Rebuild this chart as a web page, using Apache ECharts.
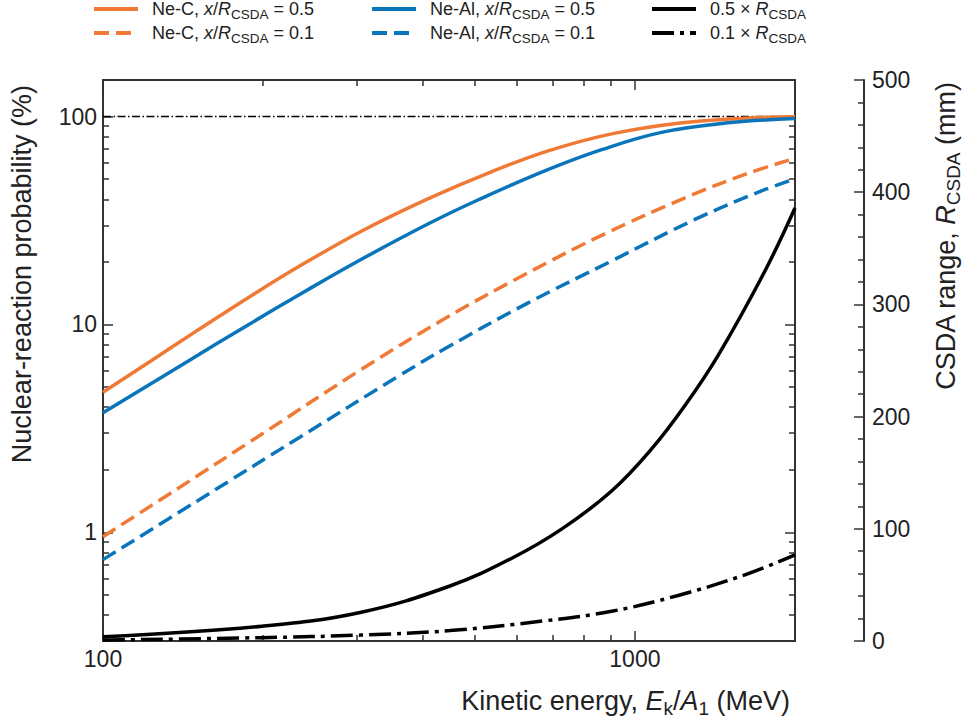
<!DOCTYPE html>
<html>
<head>
<meta charset="utf-8">
<script src="https://cdn.jsdelivr.net/npm/echarts@6/dist/echarts.min.js"></script>
<style>html,body{margin:0;padding:0;background:#fff}#c{width:966px;height:721px}</style>
</head>
<body>
<div id="c"></div>
<script>
// ---------- data ----------
const seriesNames = [
  'Ne-C, x/RCSDA = 0.5',
  'Ne-C, x/RCSDA = 0.1',
  'Ne-Al, x/RCSDA = 0.5',
  'Ne-Al, x/RCSDA = 0.1',
  '0.5 × RCSDA',
  '0.1 × RCSDA'
];

// Nuclear-reaction probability (%), left log axis
const energyNeC05 = [100, 122, 149, 193, 236, 306, 409, 530, 687, 904, 1206, 1610, 2000];
const probNeC05   = [4.72, 6.58, 9.21, 14.1, 19.3, 28.1, 40.3, 53.5, 68.4, 82.6, 93.0, 98.3, 99.7];

const energyNeC01 = [100, 137, 199, 306, 440, 621, 878, 1242, 1610, 2000];
const probNeC01   = [0.953, 1.60, 2.97, 6.08, 10.7, 17.4, 27.3, 40.6, 52.7, 63.0];

const energyNeAl05 = [100, 146, 185, 240, 302, 409, 508, 677, 866, 1122, 1498, 2000];
const probNeAl05   = [3.76, 6.77, 9.76, 14.45, 20.2, 30.5, 39.8, 54.8, 69.3, 84.0, 93.3, 97.8];

const energyNeAl01 = [100, 152, 234, 361, 440, 630, 904, 1297, 1730, 2000];
const probNeAl01   = [0.739, 1.44, 2.86, 5.68, 7.66, 12.7, 20.2, 32.0, 43.9, 50.2];

// CSDA range (mm), right linear axis
const energyRange05 = [100, 199, 306, 449, 587, 728, 904, 1075, 1242, 1434, 1755, 2000];
const range05       = [3.8, 13.2, 25.7, 49.0, 73.8, 99.7, 133.7, 171.2, 209.9, 254.6, 329.6, 385.9];

const energyRange01 = [100, 199, 306, 449, 677, 904, 1206, 1610, 2000];
const range01       = [0.8, 3.0, 5.3, 9.3, 18.0, 26.5, 40.6, 59.0, 76.8];

// 100 % reference line
const refLineX = [100, 2000];
const refLineY = [100, 100];

// axes
const xMin = 100, xMax = 2000;
const xMajorTicks = [100, 1000];
const xMinorTicks = [200, 300, 400, 500, 600, 700, 800, 900];
const yMin = 0.3, yMax = 150;
const yMajorTicks = [1, 10, 100];
const yMinorTicks = [0.4, 0.5, 0.6, 0.7, 0.8, 0.9, 2, 3, 4, 5, 6, 7, 8, 9, 20, 30, 40, 50, 60, 70, 80, 90];
const rangeMin = 0, rangeMax = 500, rangeInterval = 100;

// ---------- styles ----------
const FONT = '"Liberation Sans", Arial, Helvetica, sans-serif';
const TXT = '#222222';
const AX = '#333333';
const ORANGE = '#F07A35';
const BLUE = '#0B75BC';
const BLACK = '#000000';
const DASH = [15, 7];
const DASHDOT = [22, 6, 4, 6];

function pairs(xs, ys) { return xs.map((x, i) => [x, ys[i]]); }

const legendRich = {
  n: {fontFamily: FONT, fontSize: 18, color: TXT, lineHeight: 24},
  i: {fontFamily: FONT, fontSize: 18, color: TXT, lineHeight: 24, fontStyle: 'italic'},
  s: {fontFamily: FONT, fontSize: 13.5, color: TXT, verticalAlign: 'bottom'},
  g: {width: 9}
};
const legendText = {};
legendText[seriesNames[0]] = '{g| }{n|Ne-C, }{i|x}{n|/}{i|R}{s|CSDA}{n| = 0.5}';
legendText[seriesNames[1]] = '{g| }{n|Ne-C, }{i|x}{n|/}{i|R}{s|CSDA}{n| = 0.1}';
legendText[seriesNames[2]] = '{g| }{n|Ne-Al, }{i|x}{n|/}{i|R}{s|CSDA}{n| = 0.5}';
legendText[seriesNames[3]] = '{g| }{n|Ne-Al, }{i|x}{n|/}{i|R}{s|CSDA}{n| = 0.1}';
legendText[seriesNames[4]] = '{g| }{n|0.5 × }{i|R}{s|CSDA}';
legendText[seriesNames[5]] = '{g| }{n|0.1 × }{i|R}{s|CSDA}';

const nameRich = {
  n: {fontFamily: FONT, fontSize: 27, color: TXT, lineHeight: 34},
  i: {fontFamily: FONT, fontSize: 27, color: TXT, lineHeight: 34, fontStyle: 'italic'},
  s: {fontFamily: FONT, fontSize: 19, color: TXT, verticalAlign: 'bottom'}
};

const labelStyle = {fontFamily: FONT, fontSize: 23, color: TXT};
const tickLine = {color: AX, width: 1.5};
const frameLine = {color: AX, width: 2};

function logAxis(min, max, extra) {
  return Object.assign({
    type: 'log', logBase: 10, min: min, max: max,
    splitLine: {show: false}, minorTick: {show: false}, minorSplitLine: {show: false},
    axisLabel: {show: false}, axisLine: {show: false},
    axisPointer: {show: false}
  }, extra);
}

const legendBase = {
  orient: 'vertical', top: 0, padding: 0,
  itemWidth: 44, itemHeight: 14, itemGap: 3,
  selectedMode: false,
  itemStyle: {opacity: 0},
  lineStyle: {width: 4},
  textStyle: {fontFamily: FONT, fontSize: 18, color: TXT, rich: legendRich},
  formatter: name => legendText[name]
};

function lineSeries(name, xs, ys, color, type, yAxisIndex) {
  return {
    name: name, type: 'line', xAxisIndex: 0, yAxisIndex: yAxisIndex,
    data: pairs(xs, ys), smooth: 0.4,
    symbol: 'none', showSymbol: false,
    lineStyle: {color: color, width: 3.5, type: type, cap: 'butt'},
    itemStyle: {color: color}, z: 3
  };
}

const option = {
  backgroundColor: '#ffffff',
  animation: false,
  grid: {left: 103, right: 171, top: 80, bottom: 80, containLabel: false, outerBoundsMode: 'none'},
  legend: [
    Object.assign({}, legendBase, {left: 92, data: [seriesNames[0], seriesNames[1]]}),
    Object.assign({}, legendBase, {left: 370, data: [seriesNames[2], seriesNames[3]]}),
    Object.assign({}, legendBase, {left: 650, data: [seriesNames[4], seriesNames[5]]})
  ],
  xAxis: [
    logAxis(xMin, xMax, {
      position: 'bottom',
      axisLine: {show: true, lineStyle: frameLine},
      axisTick: {show: true, inside: true, length: 10, customValues: xMajorTicks, lineStyle: tickLine},
      axisLabel: Object.assign({show: true, customValues: xMajorTicks, margin: 6,
        formatter: v => String(Math.round(v))}, labelStyle),
      name: '{n|Kinetic energy, }{i|E}{s|k}{n|/}{i|A}{s|1}{n| (MeV)}',
      nameLocation: 'end', nameGap: -5, nameMoveOverlap: false,
      nameTextStyle: {align: 'right', verticalAlign: 'top', padding: [43, 0, 0, 0], rich: nameRich}
    }),
    logAxis(xMin, xMax, {
      position: 'bottom',
      axisTick: {show: true, inside: true, length: 6, customValues: xMinorTicks, lineStyle: tickLine}
    }),
    logAxis(xMin, xMax, {
      position: 'top',
      axisLine: {show: true, lineStyle: frameLine},
      axisTick: {show: true, inside: true, length: 10, customValues: xMajorTicks, lineStyle: tickLine}
    }),
    logAxis(xMin, xMax, {
      position: 'top',
      axisTick: {show: true, inside: true, length: 6, customValues: xMinorTicks, lineStyle: tickLine}
    })
  ],
  yAxis: [
    logAxis(yMin, yMax, {
      position: 'left',
      axisLine: {show: true, lineStyle: frameLine},
      axisTick: {show: true, inside: true, length: 10, customValues: yMajorTicks, lineStyle: tickLine},
      axisLabel: Object.assign({show: true, customValues: yMajorTicks, margin: 6,
        formatter: v => String(Math.round(v))}, labelStyle),
      name: 'Nuclear-reaction probability (%)',
      nameLocation: 'end', nameGap: -5, nameRotate: 90, nameMoveOverlap: false,
      nameTextStyle: {fontFamily: FONT, fontSize: 27, color: TXT, lineHeight: 34,
        align: 'right', verticalAlign: 'bottom', padding: [0, 0, 64, 0]}
    }),
    logAxis(yMin, yMax, {
      position: 'left',
      axisTick: {show: true, inside: true, length: 6, customValues: yMinorTicks, lineStyle: tickLine}
    }),
    logAxis(yMin, yMax, {
      position: 'right',
      axisLine: {show: true, lineStyle: frameLine},
      axisTick: {show: true, inside: true, length: 10, customValues: yMajorTicks, lineStyle: tickLine}
    }),
    logAxis(yMin, yMax, {
      position: 'right',
      axisTick: {show: true, inside: true, length: 6, customValues: yMinorTicks, lineStyle: tickLine}
    }),
    {
      type: 'value', position: 'right', offset: 69,
      min: rangeMin, max: rangeMax, interval: rangeInterval,
      splitLine: {show: false}, minorSplitLine: {show: false},
      axisLine: {show: true, lineStyle: frameLine},
      axisTick: {show: true, inside: true, length: 10, lineStyle: tickLine},
      minorTick: {show: true, splitNumber: 5, length: 6, lineStyle: tickLine},
      axisLabel: Object.assign({show: true, margin: 8}, labelStyle),
      axisPointer: {show: false},
      name: '{n|CSDA range, }{i|R}{s|CSDA}{n| (mm)}',
      nameLocation: 'end', nameGap: -2, nameRotate: 90, nameMoveOverlap: false,
      nameTextStyle: {align: 'right', verticalAlign: 'top', padding: [65, 0, 0, 0], rich: nameRich}
    }
  ],
  series: [
    {
      name: 'ref100', type: 'line', xAxisIndex: 0, yAxisIndex: 0,
      data: pairs(refLineX, refLineY), symbol: 'none', showSymbol: false, silent: true,
      lineStyle: {color: BLACK, width: 1.5, type: [8, 2.5, 1.5, 2.5]}, z: 2
    },
    lineSeries(seriesNames[0], energyNeC05, probNeC05, ORANGE, 'solid', 0),
    lineSeries(seriesNames[1], energyNeC01, probNeC01, ORANGE, DASH, 0),
    lineSeries(seriesNames[2], energyNeAl05, probNeAl05, BLUE, 'solid', 0),
    lineSeries(seriesNames[3], energyNeAl01, probNeAl01, BLUE, DASH, 0),
    lineSeries(seriesNames[4], energyRange05, range05, BLACK, 'solid', 4),
    lineSeries(seriesNames[5], energyRange01, range01, BLACK, DASHDOT, 4)
  ]
};

const chart = echarts.init(document.getElementById('c'), null, {renderer: 'svg', width: 966, height: 721});
chart.setOption(option);
</script>
</body>
</html>
